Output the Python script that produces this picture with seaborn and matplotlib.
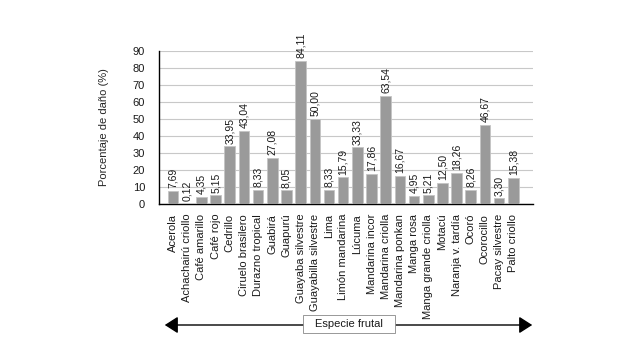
import matplotlib
matplotlib.use("Agg")
import matplotlib.pyplot as plt
from matplotlib.patches import FancyArrowPatch, Rectangle
import seaborn as sns
import pandas as pd

# Datos del gráfico
especies = ["Acerola", "Achachairú criollo", "Café amarillo", "Café rojo", "Cedrillo",
            "Ciruelo brasilero", "Durazno tropical", "Guabirá", "Guapurú",
            "Guayaba silvestre", "Guayabilla silvestre", "Lima", "Limón mandarina",
            "Lúcuma", "Mandarina incor", "Mandarina criolla", "Mandarina ponkan",
            "Manga rosa", "Manga grande criolla", "Motacú", "Naranja v. tardía",
            "Ocoró", "Ocorocillo", "Pacay silvestre", "Palto criollo"]
dano = [7.69, 0.12, 4.35, 5.15, 33.95, 43.04, 8.33, 27.08, 8.05, 84.11, 50.00,
        8.33, 15.79, 33.33, 17.86, 63.54, 16.67, 4.95, 5.21, 12.50, 18.26, 8.26,
        46.67, 3.30, 15.38]
yticks = list(range(0, 100, 10))

df = pd.DataFrame({"especie": especies, "dano": dano})

sns.set_style("white")
plt.rcParams["font.family"] = ["Liberation Sans", "DejaVu Sans"]
plt.rcParams["text.color"] = "#1a1a1a"

fig = plt.figure(figsize=(6.29, 3.58), dpi=100)
ax = fig.add_axes([0.2528, 0.430, 0.5946, 0.4285])

sns.barplot(data=df, x="especie", y="dano", color="#9a9a9a", width=0.75,
            edgecolor="#c4c4c4", linewidth=0.6, saturation=1, ax=ax, zorder=3)

# Etiquetas de valor sobre cada barra
for i, v in enumerate(dano):
    ax.text(i, v + 1.5, f"{v:.2f}".replace(".", ","), rotation=90,
            ha="center", va="bottom", fontsize=7.5, color="#1a1a1a")

ax.set_ylim(0, 90)
ax.set_xlim(-0.99, 25.39)
ax.set_yticks(yticks)
ax.yaxis.grid(True, color="#c8c8c8", linewidth=0.8, zorder=0)
ax.set_axisbelow(True)
ax.tick_params(axis="y", length=0, pad=10, labelsize=8, labelcolor="#1a1a1a")
ax.tick_params(axis="x", length=0, pad=7, labelsize=8, labelcolor="#1a1a1a")
ax.set_xticks(range(len(especies)))
ax.set_xticklabels(especies, rotation=90, ha="center", va="top")
ax.set_xlabel("")
ax.set_ylabel("Porcentaje de daño (%)", fontsize=8, labelpad=17)

for s in ["top", "right"]:
    ax.spines[s].set_visible(False)
for s in ["left", "bottom"]:
    ax.spines[s].set_color("black")
    ax.spines[s].set_linewidth(1.0)

# Flecha doble con el título del eje x
y_arrow = 1 - 325 / 358
fig.patches.append(FancyArrowPatch(
    (162 / 629, y_arrow), (535 / 629, y_arrow),
    transform=fig.transFigure, arrowstyle="<|-|>,head_length=5,head_width=3.2",
    color="black", linewidth=1.0, mutation_scale=1.6))
fig.patches.append(Rectangle((303 / 629, 1 - 333 / 358), 92 / 629, 18 / 358,
                             transform=fig.transFigure, facecolor="white",
                             edgecolor="#888888", linewidth=0.6, zorder=5))
fig.text(349 / 629, 1 - 324 / 358, "Especie frutal", ha="center", va="center",
         fontsize=8, zorder=6)

fig.savefig("out.png", dpi=100)
